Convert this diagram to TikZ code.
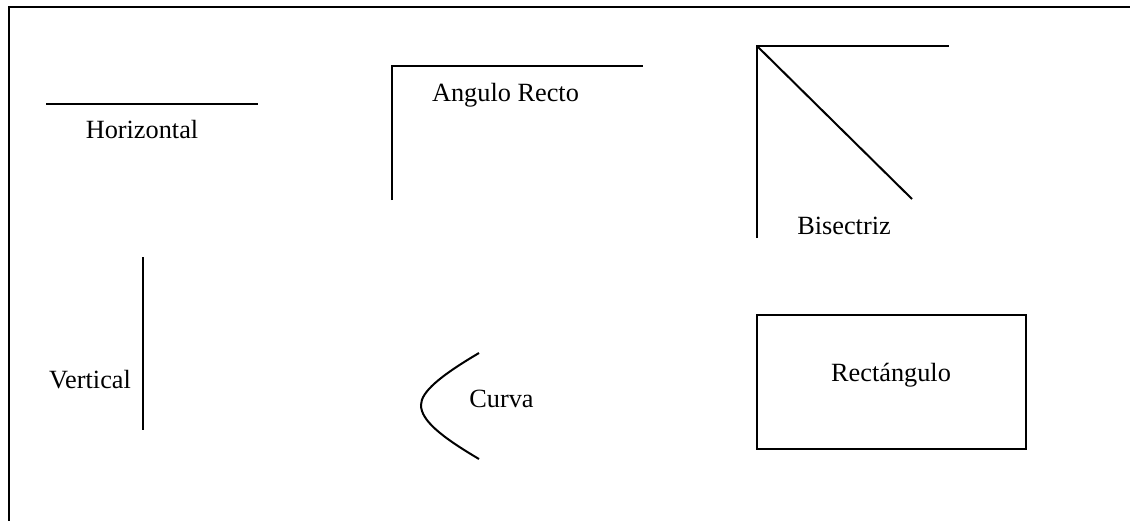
\documentclass[tikz,border=0pt]{standalone}
\usepackage{fontspec}
\setmainfont{Liberation Serif}
\begin{document}
\begin{tikzpicture}[x=0.5pt, y=-0.5pt, line width=1pt,
    lbl/.style={anchor=base, inner sep=0pt, font=\fontsize{13.15}{15}\selectfont}]
    \useasboundingbox (0,0) rectangle (1130,521);
    % marco
    \draw (1130,7) -- (9,7) -- (9,521);

    % horizontal
    \draw (46,104) -- (258,104);
    \node[lbl] (horiz) at (142,138) {Horizontal};

    % angulo recto
    \draw (392,200) -- (392,66) -- (643,66);
    \node[lbl] (recto) at (505.5,101) {Angulo Recto};

    % bisectriz
    \draw (757,238) -- (757,46) -- (949,46);
    \draw (757,46) -- (912,199);
    \node[lbl] (bisec) at (844,234) {Bisectriz};

    % vertical
    \draw (143,257) -- (143,430);
    \node[lbl] (vert) at (90,388) {Vertical};

    % curva
    \draw (479,353) .. controls (440,376) and (421,392) .. (421,405)
                    .. controls (421,420) and (440,436) .. (479,459);
    \node[lbl] (curva) at (501.5,407) {Curva};

    % rectangulo
    \draw (757,315) rectangle (1026,449);
    \node[lbl] (rect) at (891,381) {Rectángulo};
\end{tikzpicture}
\end{document}
